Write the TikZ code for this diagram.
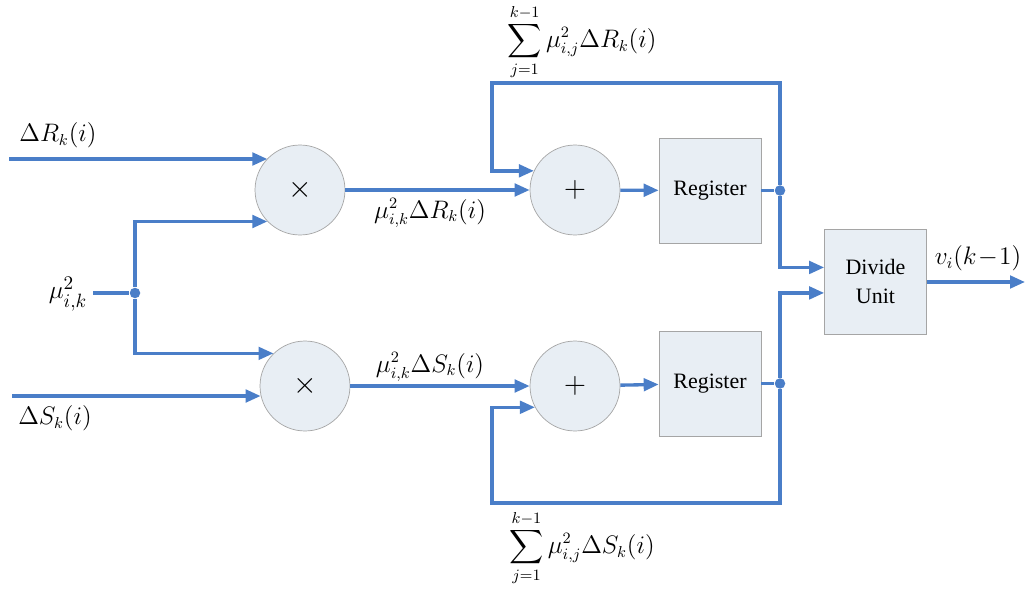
\documentclass[tikz,border=0pt]{standalone}
\usepackage{amsmath, amssymb}
\usepackage{fontspec}
\setmainfont{Liberation Serif}
\usetikzlibrary{positioning, arrows.meta}
\definecolor{lineblue}{RGB}{74,126,200}
\definecolor{boxfill}{RGB}{232,238,244}
\definecolor{boxdraw}{RGB}{165,165,165}

\begin{document}
\begin{tikzpicture}[x=0.02cm, y=-0.02cm,
    opnode/.style={draw=boxdraw, fill=boxfill, circle, minimum size=1.8cm, inner sep=0pt, font=\fontsize{17}{20}\selectfont},
    regbox/.style={draw=boxdraw, fill=boxfill, minimum width=2.04cm, minimum height=2.1cm, align=center, font=\fontsize{12.5}{16}\selectfont},
    flow/.style={draw=lineblue, line width=1.9pt, -{Triangle[length=0.3cm, width=0.25cm]}},
    wire/.style={draw=lineblue, line width=1.9pt},
    joint/.style={circle, fill=lineblue, inner sep=0pt, minimum size=0.21cm},
    lbl/.style={font=\fontsize{13.5}{15}\selectfont, inner sep=1pt}]
    \useasboundingbox (0,0) rectangle (1027,588);

    % Multipliers and adders
    \node[opnode] (m1) at (300,190) {$\times$};
    \node[opnode] (m2) at (305,386) {$\times$};
    \node[opnode] (a1) at (575,190) {$+$};
    \node[opnode] (a2) at (575,386) {$+$};

    % Registers and divider
    \node[regbox] (r1) at (710,190.5) {Register};
    \node[regbox] (r2) at (710,383.5) {Register};
    \node[regbox] (du) at (875.5,281.5) {Divide\\Unit};

    % Junctions and free ends
    \node[joint] (jm) at (135,293) {};
    \node[joint] (j1) at (780,190.5) {};
    \node[joint] (j2) at (780,383.5) {};
    \coordinate (inR) at (9,159);
    \coordinate (inS) at (12,396);
    \coordinate (inM) at (93,293);
    \coordinate (fbR) at (492,83);
    \coordinate (fbS) at (492,503);
    \coordinate (out) at (1025,282);

    % Inputs
    \draw[flow] (inR) -- (inR -| m1.136);
    \draw[flow] (inS) -- (inS -| m2.192);
    \draw[wire] (inM) -- (jm);
    \draw[flow] (jm) |- (m1.224);
    \draw[flow] (jm) |- (m2.134);

    % Products into adders
    \draw[flow] (m1) -- (a1);
    \draw[flow] (m2) -- (a2);
    \draw[flow] (a1) -- (r1);
    \draw[flow] (a2) -- (r2);

    % Register outputs and feedback
    \draw[wire] (r1) -- (j1);
    \draw[wire] (r2) -- (j2);
    \draw[flow] (j1) |- (fbR) |- (a1.155);
    \draw[flow] (j2) |- (fbS) |- (a2.208);
    \draw[flow] (j1) |- ([yshift=8pt]du.west);
    \draw[flow] (j2) |- ([yshift=-6.5pt]du.west);
    \draw[flow] (du.east |- out) -- (out);

    % Labels
    \node[lbl] (lR) at (58,135) {$\Delta R_k(i)$};
    \node[lbl] (lS) at (55,418) {$\Delta S_k(i)$};
    \node[lbl, font=\fontsize{15}{17}\selectfont] (lM) at (68,294) {$\mu_{i,k}^2$};
    \node[lbl] (lpR) at (430,213) {$\mu_{i,k}^2\Delta R_k(i)$};
    \node[lbl] (lpS) at (430,367) {$\mu_{i,k}^2\Delta S_k(i)$};
    \node[lbl] (lv) at (978,258) {$v_i(k\!-\!1)$};
    \node[lbl] (lsR) at (582,42) {$\displaystyle\sum_{j=1}^{k-1}\mu_{i,j}^2\Delta R_k(i)$};
    \node[lbl] (lsS) at (582,548) {$\displaystyle\sum_{j=1}^{k-1}\mu_{i,j}^2\Delta S_k(i)$};
\end{tikzpicture}
\end{document}
